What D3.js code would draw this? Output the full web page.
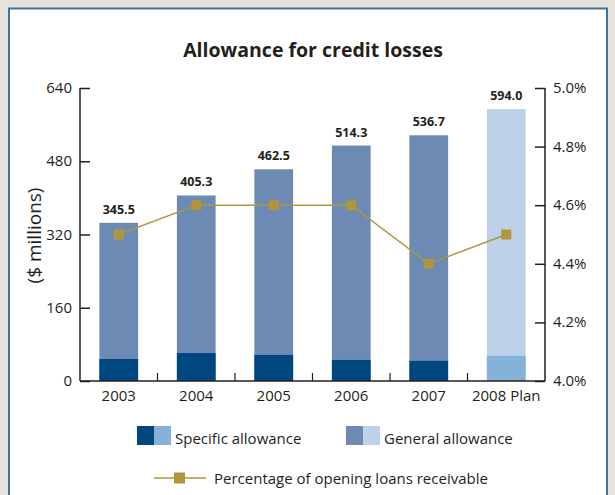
<!DOCTYPE html>
<html>
<head>
<meta charset="utf-8">
<script src="https://cdn.jsdelivr.net/npm/d3@7"></script>
<style>
  html, body { margin: 0; padding: 0; background: #e6e2dc; }
  svg { display: block; }
  text { font-family: "Open Sans", "Noto Sans", sans-serif; fill: #231f20; }
</style>
</head>
<body>
<svg id="chart" width="615" height="495"></svg>
<script>
// Data
const years = ["2003", "2004", "2005", "2006", "2007", "2008 Plan"];
const totalAllowance = [345.5, 405.3, 462.5, 514.3, 536.7, 594.0];
const specificAllowance = [48, 61, 57, 46, 44, 55];
const pctOfLoans = [4.5, 4.6, 4.6, 4.6, 4.4, 4.5];
const leftTicks = [0, 160, 320, 480, 640];
const rightTicks = [4.0, 4.2, 4.4, 4.6, 4.8, 5.0];

const colors = {
  specific: "#00467f",
  general: "#6d8ab5",
  specificPlan: "#86b2d9",
  generalPlan: "#bdd1e9",
  line: "#b0953a"
};

const svg = d3.select("#chart");

// White panel with blue frame
svg.append("rect")
  .attr("x", 9).attr("y", 8.5)
  .attr("width", 598).attr("height", 500)
  .attr("fill", "#ffffff")
  .attr("stroke", "#3f7398").attr("stroke-width", 2);

const plot = { left: 80, right: 545, top: 88, bottom: 381 };

const x = d3.scaleBand().domain(years)
  .range([plot.left, plot.right]).paddingInner(0.5).paddingOuter(0.25);
const xEdges = d3.scaleBand().domain(years).range([plot.left, plot.right]);
const y = d3.scaleLinear().domain([0, 640]).range([plot.bottom, plot.top]);
const yR = d3.scaleLinear().domain([4.0, 5.0]).range([plot.bottom, plot.top]);

// Title
svg.append("text")
  .attr("x", 313).attr("y", 57)
  .attr("text-anchor", "middle")
  .attr("font-size", 19.5).attr("font-weight", "bold")
  .text("Allowance for credit losses");

// Y axis title
svg.append("text")
  .attr("transform", `translate(41, ${(plot.top + plot.bottom) / 2 + 1}) rotate(-90)`)
  .attr("text-anchor", "middle")
  .attr("font-size", 19)
  .text("($ millions)");

// Bars: general part (total) then specific part on the bottom
const isPlan = (d) => d === "2008 Plan";
const bars = svg.append("g");
bars.selectAll("rect.total").data(years).join("rect")
  .attr("x", (d) => x(d)).attr("width", x.bandwidth())
  .attr("y", (d, i) => y(totalAllowance[i]))
  .attr("height", (d, i) => y(0) - y(totalAllowance[i]))
  .attr("fill", (d) => isPlan(d) ? colors.generalPlan : colors.general);
bars.selectAll("rect.spec").data(years).join("rect")
  .attr("x", (d) => x(d)).attr("width", x.bandwidth())
  .attr("y", (d, i) => y(specificAllowance[i]))
  .attr("height", (d, i) => y(0) - y(specificAllowance[i]))
  .attr("fill", (d) => isPlan(d) ? colors.specificPlan : colors.specific);

// Value labels
svg.append("g").selectAll("text").data(years).join("text")
  .attr("x", (d) => x(d) + x.bandwidth() / 2)
  .attr("y", (d, i) => y(totalAllowance[i]) - 9)
  .attr("text-anchor", "middle")
  .attr("font-size", 12.5).attr("font-weight", "bold")
  .text((d, i) => totalAllowance[i].toFixed(1));

// Left axis (ticks pointing inward)
const leftAxis = svg.append("g").attr("transform", `translate(${plot.left},0)`)
  .call(d3.axisRight(y).tickValues(leftTicks).tickSize(10).tickFormat(""));
leftAxis.select(".domain").remove();
leftAxis.selectAll("line").attr("stroke", "#231f20").attr("stroke-width", 1.5);
svg.append("line")
  .attr("x1", plot.left).attr("x2", plot.left)
  .attr("y1", plot.top).attr("y2", plot.bottom)
  .attr("stroke", "#231f20").attr("stroke-width", 1.5);
svg.append("g").selectAll("text").data(leftTicks).join("text")
  .attr("x", plot.left - 8).attr("y", (d) => y(d) + 5)
  .attr("text-anchor", "end").attr("font-size", 15)
  .text((d) => d);

// Right axis (ticks pointing inward)
const rightAxis = svg.append("g").attr("transform", `translate(${plot.right},0)`)
  .call(d3.axisLeft(yR).tickValues(rightTicks).tickSize(10).tickFormat(""));
rightAxis.select(".domain").remove();
rightAxis.selectAll("line").attr("stroke", "#231f20").attr("stroke-width", 1.5);
svg.append("line")
  .attr("x1", plot.right).attr("x2", plot.right)
  .attr("y1", plot.top).attr("y2", plot.bottom)
  .attr("stroke", "#231f20").attr("stroke-width", 1.5);
svg.append("g").selectAll("text").data(rightTicks).join("text")
  .attr("x", plot.right + 8).attr("y", (d) => yR(d) + 5)
  .attr("text-anchor", "start").attr("font-size", 15)
  .text((d) => d.toFixed(1) + "%");

// Baseline with category divider ticks
svg.append("line")
  .attr("x1", plot.left).attr("x2", plot.right)
  .attr("y1", plot.bottom).attr("y2", plot.bottom)
  .attr("stroke", "#231f20").attr("stroke-width", 1.5);
svg.append("g").selectAll("line").data(years.slice(1)).join("line")
  .attr("x1", (d) => xEdges(d)).attr("x2", (d) => xEdges(d))
  .attr("y1", plot.bottom).attr("y2", plot.bottom - 8)
  .attr("stroke", "#231f20").attr("stroke-width", 1.2);
svg.append("g").selectAll("text").data(years).join("text")
  .attr("x", (d) => x(d) + x.bandwidth() / 2)
  .attr("y", plot.bottom + 20)
  .attr("text-anchor", "middle").attr("font-size", 15)
  .text((d) => d);

// Percentage line with square markers
const line = d3.line()
  .x((d, i) => x(years[i]) + x.bandwidth() / 2)
  .y((d) => yR(d));
svg.append("path").datum(pctOfLoans)
  .attr("d", line).attr("fill", "none")
  .attr("stroke", colors.line).attr("stroke-width", 1.4);
svg.append("g").selectAll("rect").data(pctOfLoans).join("rect")
  .attr("x", (d, i) => x(years[i]) + x.bandwidth() / 2 - 5)
  .attr("y", (d) => yR(d) - 5)
  .attr("width", 10).attr("height", 10)
  .attr("fill", colors.line);

// Legend
const legend = svg.append("g");
const swatches = [
  { x: 137, dark: colors.specific, light: colors.specificPlan, label: "Specific allowance" },
  { x: 346, dark: colors.general, light: colors.generalPlan, label: "General allowance" }
];
swatches.forEach((s) => {
  legend.append("rect").attr("x", s.x).attr("y", 426).attr("width", 17).attr("height", 19).attr("fill", s.dark);
  legend.append("rect").attr("x", s.x + 17).attr("y", 426).attr("width", 17).attr("height", 19).attr("fill", s.light);
  legend.append("text").attr("x", s.x + 38).attr("y", 444).attr("font-size", 15).text(s.label);
});
legend.append("line")
  .attr("x1", 154).attr("x2", 206).attr("y1", 478).attr("y2", 478)
  .attr("stroke", colors.line).attr("stroke-width", 1.4);
legend.append("rect").attr("x", 174).attr("y", 472.5).attr("width", 11).attr("height", 11).attr("fill", colors.line);
legend.append("text").attr("x", 214).attr("y", 484).attr("font-size", 15)
  .text("Percentage of opening loans receivable");
</script>
</body>
</html>
